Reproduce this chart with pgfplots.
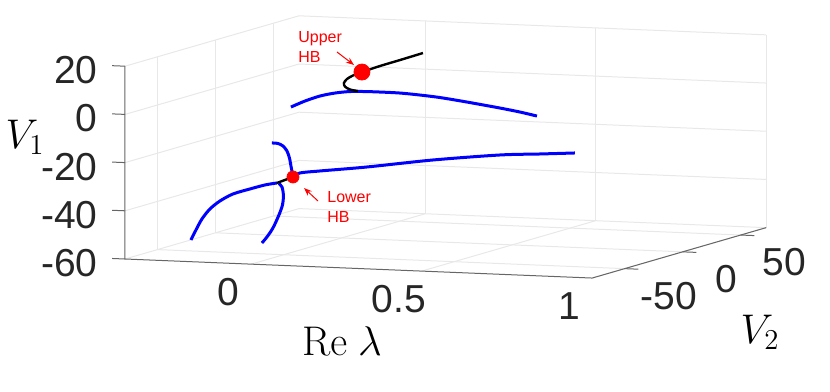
\documentclass[border=0pt]{standalone}
\usepackage{pgfplots}
\pgfplotsset{compat=1.18}
\usetikzlibrary{arrows.meta}
\usepackage[no-math]{fontspec}
\setmainfont{Liberation Sans}
\begin{document}
\begin{tikzpicture}
\begin{axis}[
    x={(170.5pt,-6.95pt)}, y={(0.58pt,0.168pt)}, z={(0pt,1.205pt)},
    xmin=-0.37, xmax=1, ymin=-78, ymax=72, zmin=-60, zmax=20,
    xtick={0,0.5,1}, xticklabels={0,0.5,1},
    ytick={-50,0,50}, yticklabels={-50,0,50},
    ztick={-60,-40,-20,0,20}, zticklabels={-60,-40,-20,0,20},
    grid=major,
    major grid style={gray!18, line width=0.5pt},
    axis line style={draw=none},
    major tick length=0pt,
    ticklabel style={font=\fontsize{19.5}{23}\selectfont, text=black!85, inner sep=0pt},
    xticklabel style={anchor=center, xshift=-11.5pt, yshift=-14pt},
    yticklabel style={anchor=center, xshift=22pt, yshift=-13.5pt},
    zticklabel style={anchor=east, xshift=-13.5pt, yshift=-2pt},
    clip=false,
]
\coordinate (O) at (axis cs:-0.37,-78,-60);

% axis lines and ticks
\draw[black!60, line width=0.5pt] (axis cs:-0.37,-78,20) -- (axis cs:-0.37,-78,-60)
    -- (axis cs:1,-78,-60) -- (axis cs:1,72,-60);
\draw[black!60, line width=0.5pt] (axis cs:-0.37,-78,-60) -- (axis cs:-0.408,-78,-60);
\draw[black!60, line width=0.5pt] (axis cs:-0.37,-78,-40) -- (axis cs:-0.408,-78,-40);
\draw[black!60, line width=0.5pt] (axis cs:-0.37,-78,-20) -- (axis cs:-0.408,-78,-20);
\draw[black!60, line width=0.5pt] (axis cs:-0.37,-78,0) -- (axis cs:-0.408,-78,0);
\draw[black!60, line width=0.5pt] (axis cs:-0.37,-78,20) -- (axis cs:-0.408,-78,20);
\draw[black!60, line width=0.5pt] (axis cs:1,-50,-60) -- (axis cs:1.04,-50,-60);
\draw[black!60, line width=0.5pt] (axis cs:1,0,-60) -- (axis cs:1.04,0,-60);
\draw[black!60, line width=0.5pt] (axis cs:1,50,-60) -- (axis cs:1.04,50,-60);

% upper branch
\addplot3[blue, line width=1.5pt, smooth] coordinates {
    (-0.1487,0,-6.54) (-0.1076,0,-3.82) (-0.0637,0,-1.49) (-0.0196,0,0.01)
    (0.0243,0,0.89) (0.0683,0,1.14) (0.1123,0,1.19) (0.1710,0,1.11)
    (0.2296,0,0.62) (0.2883,0,-0.08) (0.3674,0,-1.49) (0.4642,0,-3.42)
    (0.5229,0,-4.74) (0.5727,0,-6.12)
};
\addplot3[black, line width=1.2pt, smooth] coordinates {
    (0.0478,0,1.23) (0.0243,0,1.72) (0.0097,0,2.88) (0.0067,0,4.31)
    (0.0155,0,6.02) (0.0331,0,7.58) (0.0595,0,9.18) (0.1123,0,11.98)
    (0.1710,0,14.80) (0.2384,0,18.10)
};

% lower branch
\addplot3[blue, line width=1.5pt, smooth] coordinates {
    (-0.0067,-40,-29.17) (0.0138,-40,-27.39) (0.0724,-40,-26.22)
    (0.2103,-40,-23.77) (0.4038,-40,-19.75) (0.6003,-40,-16.54)
    (0.7176,-40,-15.45) (0.8202,-40,-14.44)
};
\addplot3[blue, line width=1.5pt, smooth] coordinates {
    (-0.0683,-40,-15.41) (-0.0507,-40,-15.52) (-0.0361,-40,-16.47)
    (-0.0243,-40,-18.48) (-0.0170,-40,-21.34) (-0.0126,-40,-24.64)
    (-0.0097,-40,-26.69) (-0.0067,-40,-28.34) (-0.0067,-40,-29.17)
};
\addplot3[blue, line width=1.5pt, smooth] coordinates {
    (-0.0537,-40,-31.93) (-0.0889,-40,-32.96) (-0.1328,-40,-34.87)
    (-0.1827,-40,-37.24) (-0.2208,-40,-40.36) (-0.2502,-40,-43.85)
    (-0.2736,-40,-48.13) (-0.2912,-40,-52.80) (-0.3059,-40,-57.03)
};
\addplot3[blue, line width=1.5pt, smooth] coordinates {
    (-0.0478,-40,-32.10) (-0.0390,-40,-33.50) (-0.0346,-40,-36.80)
    (-0.0375,-40,-40.96) (-0.0478,-40,-45.17) (-0.0654,-40,-50.67)
    (-0.0830,-40,-54.50) (-0.0977,-40,-57.08)
};
\addplot3[black, line width=1.2pt] coordinates {
    (-0.0067,-40,-29.17) (-0.0537,-40,-31.93)
};

% Hopf points
\addplot3[only marks, mark=*, mark size=4pt, red] coordinates {(0.0595,0,9.18)};
\addplot3[only marks, mark=*, mark size=3pt, red] coordinates {(-0.0067,-40,-29.17)};
\end{axis}

\begin{scope}[shift={(O)}, x=0.5pt, y=-0.5pt]
  \node[font=\fontsize{19.5}{23}\selectfont] at (25-125,137-259) {$V_1$};
  \node[font=\fontsize{19.5}{23}\selectfont] at (342-125,341-259) {$\mathrm{Re}\ \lambda$};
  \node[font=\fontsize{19.5}{23}\selectfont] at (760-125,332-259) {$V_2$};
  \node[red, anchor=west, align=left, inner sep=0pt, font=\fontsize{8}{10}\selectfont]
    at (298-125,47-259) {Upper\\HB};
  \node[red, anchor=west, align=left, inner sep=0pt, font=\fontsize{8}{10}\selectfont]
    at (327-125,207-259) {Lower\\HB};
  \draw[red, line width=0.5pt, -{Stealth[length=4pt,width=3pt]}] (337-125,52-259) -- (354-125,65-259);
  \draw[red, line width=0.5pt, -{Stealth[length=4pt,width=3pt]}] (318-125,201-259) -- (304-125,188-259);
  \pgfresetboundingbox
  \path[use as bounding box] (-125,-259) rectangle (705,132);
\end{scope}
\end{tikzpicture}
\end{document}
